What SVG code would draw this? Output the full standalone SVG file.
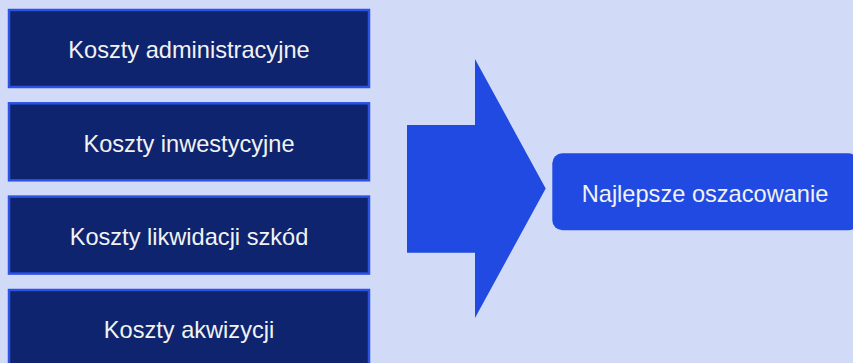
<svg xmlns="http://www.w3.org/2000/svg" width="853" height="363" viewBox="0 0 853 363">
<style>
.box{fill:#0f246e;stroke:#2c52e4;stroke-width:2.5}
.lbl{font-family:"Liberation Sans",Arial,sans-serif;font-size:23.6px;fill:#f2f2f2;text-anchor:middle}
.arrow{fill:#214ae2}
.res{fill:#214ae2}
</style>
<rect width="853" height="363" fill="#d1dbf8"/>
<g id="n1"><rect class="box" x="9" y="10" width="360" height="77"/><text class="lbl" x="189" y="58.3">Koszty administracyjne</text></g>
<g id="n2"><rect class="box" x="9" y="103.3" width="360" height="77"/><text class="lbl" x="189" y="151.6">Koszty inwestycyjne</text></g>
<g id="n3"><rect class="box" x="9" y="196.6" width="360" height="77"/><text class="lbl" x="189" y="244.9">Koszty likwidacji szkód</text></g>
<g id="n4"><rect class="box" x="9" y="290" width="360" height="77"/><text class="lbl" x="189" y="338.3">Koszty akwizycji</text></g>
<g id="connectors"><polygon class="arrow" points="407,125 475,125 475,59 545.7,188.5 475,318 475,252.7 407,252.7"/></g>
<g id="n5"><rect class="res" x="552.3" y="153.3" width="306" height="77" rx="10"/><text class="lbl" x="705" y="201.7">Najlepsze oszacowanie</text></g>
</svg>
